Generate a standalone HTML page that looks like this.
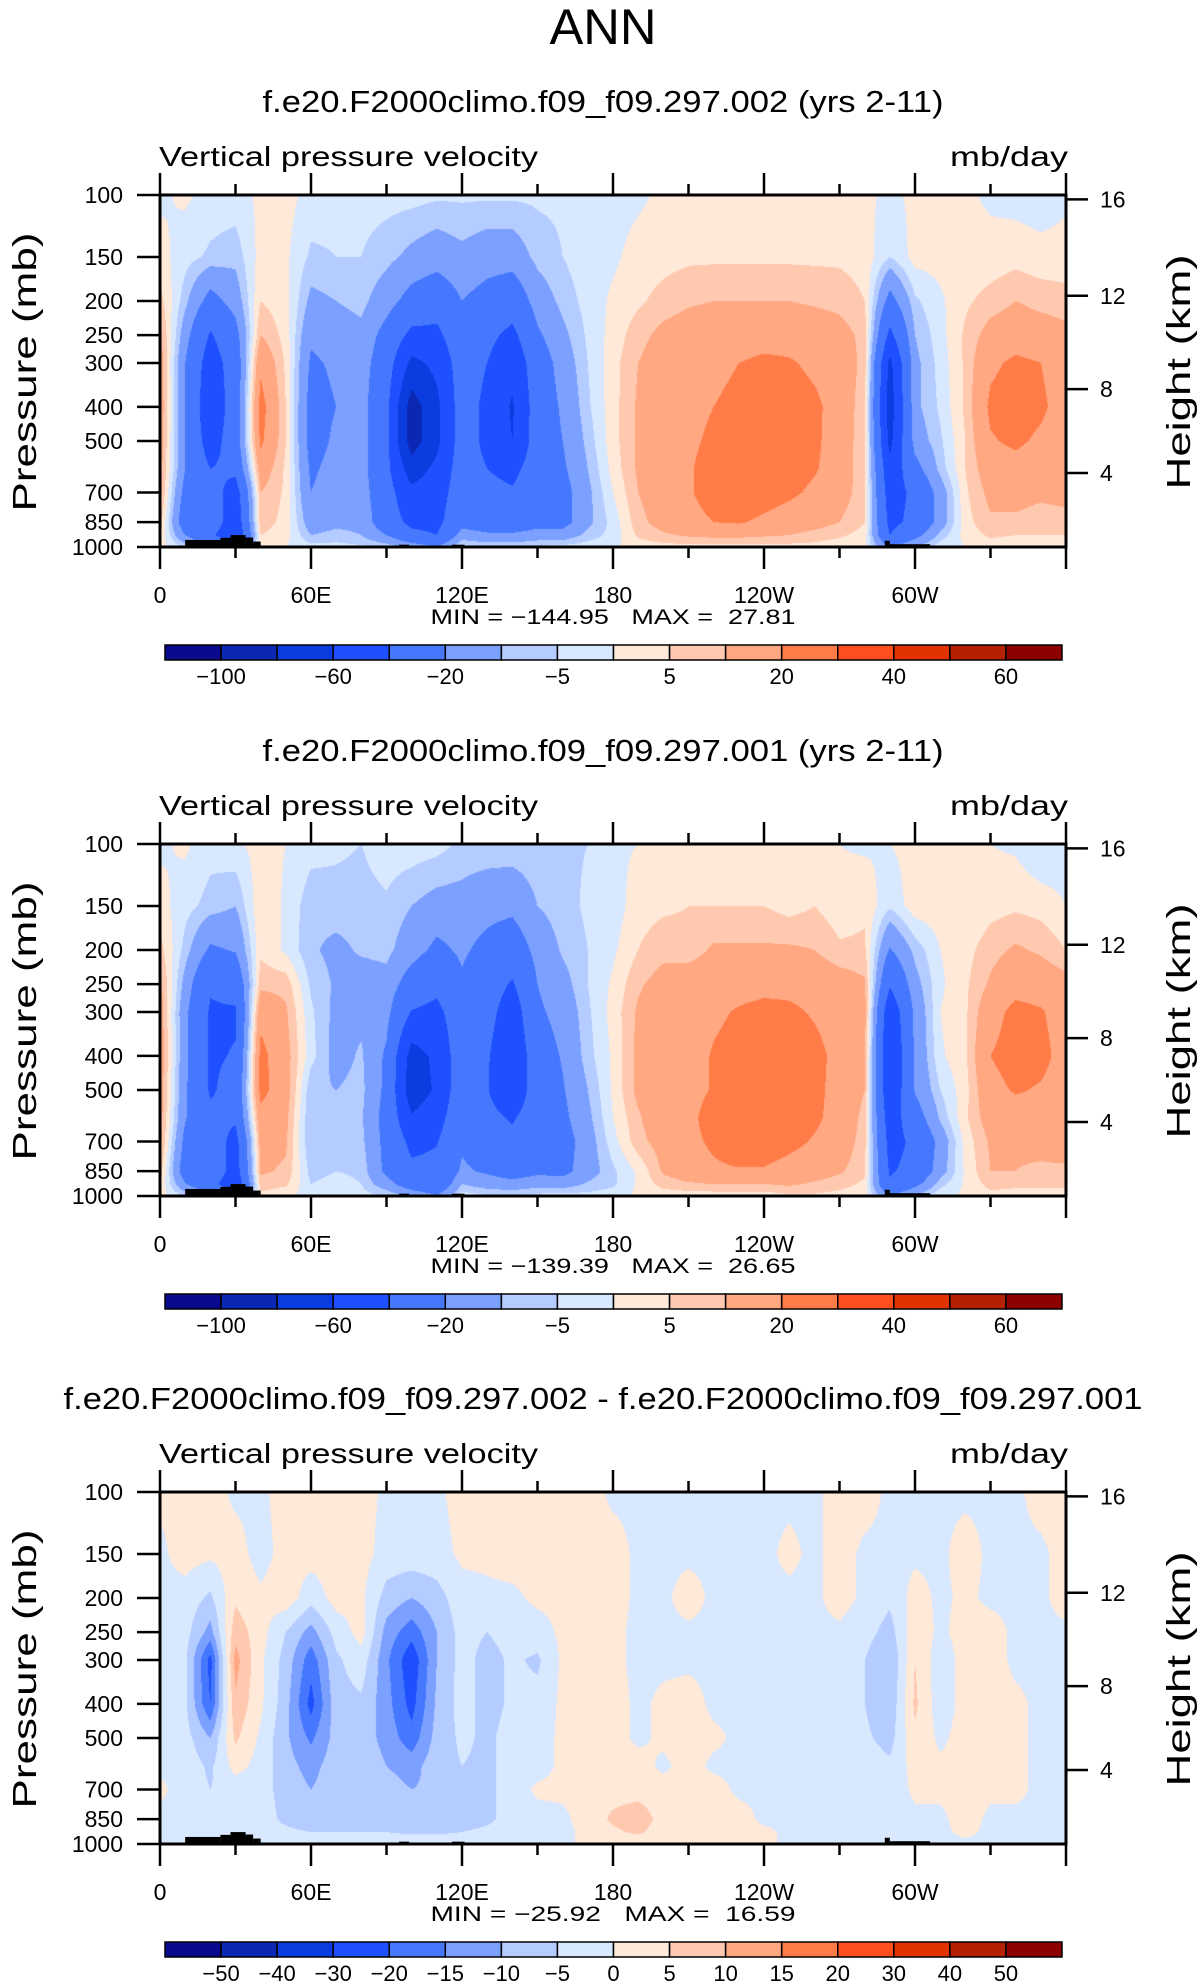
<!DOCTYPE html>
<html><head><meta charset="utf-8"><title>ANN vertical pressure velocity</title>
<style>
html,body{margin:0;padding:0;background:#fff;}
#wrap{position:relative;width:1203px;height:1987px;overflow:hidden;background:#fff;}
canvas{position:absolute;}
svg{position:absolute;left:0;top:0;}
text{font-family:"Liberation Sans",sans-serif;fill:#000;}
.pre{white-space:pre;}
</style></head>
<body>
<div id="wrap">
<canvas id="c0" width="906" height="352" style="left:160px;top:195px"></canvas>
<canvas id="c1" width="906" height="352" style="left:160px;top:844px"></canvas>
<canvas id="c2" width="906" height="352" style="left:160px;top:1492px"></canvas>
<svg id="ov" width="1203" height="1987"></svg>
</div>
<script>
// ---- data ----
const lonGrid = [0,10,20,30,40,50,60,70,80,90,100,110,120,130,140,150,160,170,180,190,200,210,220,230,240,250,260,270,280,290,300,310,320,330,340,350,360];
const presLevels = [100,150,200,250,300,400,500,600,700,850,925,1000];
// columns by longitude; values at presLevels (mb/day)
const omegaCase002 = [
[-1,2,7,12,14,15,14,13,12,8,5,2],
[1,-3,-8,-15,-20,-20,-20,-20,-25,-30,-20,-5],
[-2,-6,-25,-42,-50,-55,-50,-40,-30,-25,-35,-20],
[-2,-8,-15,-25,-30,-30,-28,-35,-50,-55,-60,-30],
[1,2,5,10,18,24,22,15,10,8,5,2],
[2,1,2,3,4,5,5,4,4,3,2,0],
[-2,-6,-12,-18,-22,-25,-25,-22,-20,-15,-10,-3],
[-3,-5,-10,-14,-18,-20,-18,-16,-14,-12,-8,-3],
[-3,-5,-8,-12,-14,-15,-15,-15,-14,-12,-10,-4],
[-3,-8,-15,-25,-30,-35,-35,-35,-32,-30,-20,-6],
[-3,-12,-25,-45,-65,-90,-90,-70,-55,-45,-35,-12],
[-4,-15,-30,-45,-55,-65,-65,-55,-50,-45,-40,-20],
[-4,-12,-20,-25,-30,-30,-30,-30,-28,-25,-15,-3],
[-4,-15,-25,-35,-40,-45,-45,-40,-35,-28,-18,-5],
[-4,-15,-30,-45,-55,-62,-60,-45,-38,-30,-18,-5],
[-4,-8,-15,-22,-28,-30,-30,-30,-30,-25,-15,-4],
[-4,-5,-8,-12,-15,-18,-20,-22,-25,-25,-15,-3],
[-3,-2,-3,-4,-5,-6,-8,-10,-12,-12,-8,-2],
[-2,-1,1,2,3,3,3,2,0,-3,-3,-1],
[-1,2,4,8,10,11,11,11,10,8,6,2],
[1,3,7,12,14,15,15,15,15,13,9,3],
[2,4,9,14,15,17,18,19,19,17,11,3],
[2,4,10,15,17,20,22,24,24,20,12,3],
[2,4,10,15,20,23,25,26,26,21,12,3],
[2,4,10,16,22,25,25,26,25,18,11,3],
[2,4,10,16,21,25,25,25,22,15,10,3],
[2,4,9,15,18,22,22,21,18,13,8,3],
[2,4,8,13,15,16,15,15,14,10,6,2],
[1,3,5,8,8,6,6,6,6,5,3,1],
[-1,-5,-25,-45,-65,-70,-65,-55,-50,-45,-40,-20],
[1,2,-6,-10,-12,-12,-15,-25,-35,-35,-25,-10],
[1,2,-1,-2,-3,-4,-6,-8,-15,-15,-8,-2],
[1,2,4,6,6,6,5,5,4,3,2,0],
[-1,2,7,13,18,22,19,15,12,9,6,2],
[-2,3,10,15,22,25,22,16,12,9,5,2],
[-3,2,8,14,20,22,18,14,11,8,5,2],
[-1,2,7,12,14,15,14,13,12,8,5,2]
];
const omegaCase001 = [
[-1,2,7,12,14,15,14,13,12,8,5,2],
[1,-3,-7,-13,-17,-17,-18,-19,-24,-28,-19,-5],
[-3,-7,-22,-38,-42,-42,-42,-36,-28,-23,-32,-19],
[-1,-10,-19,-33,-42,-39,-34,-37,-47,-50,-57,-29],
[2,4,4,8,17,23,23,17,13,11,8,3],
[0,-1,-1,8,11,13,14,12,11,9,6,1],
[-3,-8,-9,-6,-4,-3,-9,-10,-10,-7,-5,-2],
[-4,-7,-12,-11,-12,-13,-10,-9,-7,-5,-3,-2],
[-5,-7,-9,-14,-12,-9,-8,-9,-8,-6,-5,-3],
[-2,-6,-8,-13,-16,-22,-23,-25,-24,-23,-15,-5],
[-2,-10,-15,-27,-41,-68,-72,-58,-45,-36,-29,-11],
[-3,-13,-23,-35,-45,-56,-57,-48,-41,-35,-34,-19],
[-6,-13,-18,-22,-27,-27,-26,-25,-22,-18,-10,-2],
[-6,-16,-24,-30,-33,-38,-39,-34,-29,-22,-14,-4],
[-6,-17,-29,-42,-51,-58,-57,-42,-35,-27,-16,-4],
[-6,-10,-16,-20,-22,-27,-28,-28,-31,-23,-13,-3],
[-6,-7,-9,-13,-16,-19,-21,-23,-26,-24,-14,-2],
[-5,-4,-5,-5,-6,-7,-10,-12,-14,-14,-9,-3],
[-1,-3,-1,1,2,1,1,0,-2,-6,-6,-2],
[0,3,5,9,11,12,12,9,8,1,1,1],
[2,4,8,13,15,14,14,16,13,11,7,2],
[3,5,7,15,16,15,16,17,17,15,9,2],
[3,5,11,16,18,21,21,25,22,18,10,2],
[3,5,11,16,21,24,26,27,27,19,10,2],
[3,5,11,17,23,26,26,27,26,19,10,2],
[3,3,11,17,22,26,26,26,23,16,11,4],
[3,5,10,16,19,23,23,22,19,14,9,4],
[0,2,6,14,16,17,16,16,15,11,7,3],
[-1,4,6,11,13,11,10,8,7,6,4,2],
[0,-4,-21,-38,-55,-61,-58,-51,-47,-42,-38,-19],
[2,3,-8,-13,-17,-18,-19,-27,-36,-34,-24,-9],
[2,3,0,-1,0,-1,-5,-9,-16,-14,-7,-1],
[2,0,3,4,4,4,3,4,2,1,1,1],
[0,3,8,11,16,20,17,14,11,10,7,3],
[-1,4,11,16,23,24,21,15,11,10,6,3],
[-5,3,9,15,21,23,19,15,12,9,6,3],
[-3,0,5,13,15,16,15,14,13,9,6,3]
];
const omegaDiff = [
[1,-1,-1,-1,-1,-1,-1,-1,1,-1,-1,-1],
[1,2,-2,-3,-4,-4,-3,-2,-2,-3,-2,-1],
[2,1,-6,-12,-22,-20,-10,-6,-5,-4,-3,-1],
[-1,2,4,8,12,9,6,2,-3,-5,-3,-1],
[-1,-2,1,2,1,1,-1,-2,-3,-3,-3,-1],
[2,2,3,-5,-7,-8,-9,-8,-7,-6,-4,-1],
[1,2,-3,-12,-18,-22,-16,-12,-10,-8,-5,-1],
[1,2,2,-3,-6,-7,-8,-7,-7,-7,-5,-1],
[2,2,1,2,-2,-6,-7,-6,-6,-6,-5,-1],
[-1,-2,-7,-12,-14,-13,-12,-10,-8,-7,-5,-1],
[-1,-2,-10,-18,-24,-22,-18,-12,-10,-9,-6,-1],
[-1,-2,-7,-10,-10,-9,-8,-7,-9,-10,-6,-1],
[2,1,-2,-3,-3,-3,-4,-5,-6,-7,-5,-1],
[2,1,-1,-5,-7,-7,-6,-6,-6,-6,-4,-1],
[2,2,-1,-3,-4,-4,-3,-3,-3,-3,-2,-1],
[2,2,1,-2,-6,-3,-2,-2,1,-2,-2,-1],
[2,2,1,1,1,1,1,1,1,-1,-1,-1],
[2,2,2,1,1,1,2,2,2,2,1,1],
[-1,2,2,1,1,2,2,2,3,6,4,1],
[-1,-1,-1,-1,-1,-1,-1,2,3,8,6,1],
[-1,-1,-1,-1,-1,1,1,-1,2,3,2,1],
[-1,-1,2,-1,-1,2,2,2,2,2,2,1],
[-1,-1,-1,-1,-1,-1,1,-1,2,2,2,1],
[-1,-1,-1,-1,-1,-1,-1,-1,-1,2,2,1],
[-1,-1,-1,-1,-1,-1,-1,-1,-1,-1,1,1],
[-1,1,-1,-1,-1,-1,-1,-1,-1,-1,-1,-1],
[-1,-1,-1,-1,-1,-1,-1,-1,-1,-1,-1,-1],
[2,2,2,-1,-1,-1,-1,-1,-1,-1,-1,-1],
[2,-1,-1,-3,-5,-5,-4,-2,-1,-1,-1,-1],
[-1,-1,-4,-7,-10,-9,-7,-4,-3,-3,-2,-1],
[-1,-1,2,3,5,6,4,2,1,-1,-1,-1],
[-1,-1,-1,-1,-3,-3,-1,1,1,-1,-1,-1],
[-1,2,1,2,2,2,2,1,2,2,1,-1],
[-1,-1,-1,2,2,2,2,1,1,-1,-1,-1],
[-1,-1,-1,-1,-1,1,1,1,1,-1,-1,-1],
[2,-1,-1,-1,-1,-1,-1,-1,-1,-1,-1,-1],
[2,2,2,-1,-1,-1,-1,-1,-1,-1,-1,-1]
];
const levelsFull = [-100,-80,-60,-40,-20,-10,-5,0,5,10,20,30,40,50,60];
const levelsDiff = [-50,-40,-30,-20,-15,-10,-5,0,5,10,15,20,30,40,50];
const labelsFull = ["−100","−60","−20","−5","5","20","40","60"];
const labelsFullIdx = [0,2,4,6,8,10,12,14];
const labelsDiff = ["−50","−40","−30","−20","−15","−10","−5","0","5","10","15","20","30","40","50"];
const palette = ["#0a0a8c","#0a28b4","#0a3ce0","#1e50ff","#4678ff","#7ca0ff","#b4ccff","#d7e8ff","#ffe9d9","#ffc9b0","#ffa882","#ff7c48","#ff4f1e","#e13200","#b42000","#8c0000"];
const pTicks = [100,150,200,250,300,400,500,700,850,1000];
const zTicks = [4,8,12,16];
const lonTickVals = [0,60,120,180,240,300];
const lonTickLabels = ["0","60E","120E","180","120W","60W"];
// topography blocks (lon start, lon end, pressure at ground top)
const topoBlocks = [[10,24,955],[24,28,942],[28,34,925],[34,37,940],[37,40,965],[95,99,985],[116,121,985],[288,290,960],[290,306,982]];
const panelTitles = ["f.e20.F2000climo.f09_f09.297.002 (yrs 2-11)","f.e20.F2000climo.f09_f09.297.001 (yrs 2-11)","f.e20.F2000climo.f09_f09.297.002 - f.e20.F2000climo.f09_f09.297.001"];
const minmax = [["−144.95","27.81"],["−139.39","26.65"],["−25.92","16.59"]];

// ---- geometry ----
const X0=160, X1=1066, PH=352;
const tops=[195,844,1492];
const xLon = l => X0 + (X1-X0)*l/360;
const yP = (t,p) => t + PH*Math.log10(p/100);
function zToP(zkm){const z=zkm*1000; if(z<=11000) return 1013.25*Math.pow(1-2.25577e-5*z,5.25588); return 226.32*Math.exp(-(z-11000)/6341.6);}

function hexRgb(h){return [parseInt(h.substr(1,2),16),parseInt(h.substr(3,2),16),parseInt(h.substr(5,2),16)];}
const palRgb = palette.map(hexRgb);
const logLev = presLevels.map(p=>Math.log10(p));

function drawField(cid, field, levels){
  const cv=document.getElementById(cid), ctx=cv.getContext('2d');
  const W=cv.width, H=cv.height, img=ctx.createImageData(W,H);
  for(let py=0;py<H;py++){
    const lp = 2 + (py+0.5)/H;
    let k=0; while(k<logLev.length-2 && lp>logLev[k+1]) k++;
    const fy = Math.min(1,Math.max(0,(lp-logLev[k])/(logLev[k+1]-logLev[k])));
    for(let px=0;px<W;px++){
      const lon=(px+0.5)/W*360;
      let i=Math.min(35,Math.floor(lon/10)); const fx=(lon-lonGrid[i])/10;
      const a=field[i][k]*(1-fy)+field[i][k+1]*fy;
      const b=field[i+1][k]*(1-fy)+field[i+1][k+1]*fy;
      const v=a*(1-fx)+b*fx;
      let c=0; while(c<levels.length && v>=levels[c]) c++;
      const col=palRgb[c], o=(py*W+px)*4;
      img.data[o]=col[0];img.data[o+1]=col[1];img.data[o+2]=col[2];img.data[o+3]=255;
    }
  }
  ctx.putImageData(img,0,0);
}
drawField('c0',omegaCase002,levelsFull);
drawField('c1',omegaCase001,levelsFull);
drawField('c2',omegaDiff,levelsDiff);

// ---- SVG overlay ----
const svg=document.getElementById('ov'), NS='http://www.w3.org/2000/svg';
function mk(tag,attrs,parent,txt){const e=document.createElementNS(NS,tag);for(const k in attrs)e.setAttribute(k,attrs[k]);if(txt!==undefined)e.textContent=txt;(parent||svg).appendChild(e);return e;}

const main=mk('text',{x:603,y:44,'text-anchor':'middle','font-size':50,textLength:107,lengthAdjust:'spacingAndGlyphs'},svg,'ANN');



const titleW=[681,681,1079];
for(let k=0;k<3;k++){
  const t=tops[k], off=t-195;
  const g=mk('g',{});
  
  
  const tt=mk('text',{x:603,y:112+off,'text-anchor':'middle','font-size':31,textLength:titleW[k],lengthAdjust:'spacingAndGlyphs'},g,panelTitles[k]);
  
  
  const vl=mk('text',{x:159,y:166+off,'font-size':28,textLength:379,lengthAdjust:'spacingAndGlyphs'},g,'Vertical pressure velocity');
  
  
  const ul=mk('text',{x:1068,y:166+off,'text-anchor':'end','font-size':28,textLength:118,lengthAdjust:'spacingAndGlyphs'},g,'mb/day');
  
  
  for(const b of topoBlocks){
    const r=mk('rect',{x:xLon(b[0]),y:yP(t,b[2]),width:xLon(b[1])-xLon(b[0]),height:t+PH-yP(t,b[2]),fill:'#000'},g);
    
    
  }
  const fr=mk('rect',{x:X0,y:t,width:X1-X0,height:PH,fill:'none',stroke:'#000','stroke-width':3},g);
  
  
  for(let l=0;l<=360;l+=30){
    const major=l%60===0, len=major?22:11, x=xLon(l);
    const tk1=mk('line',{x1:x,x2:x,y1:t,y2:t-len,stroke:'#000','stroke-width':2.5},g);
    
    
    const tk2=mk('line',{x1:x,x2:x,y1:t+PH,y2:t+PH+len,stroke:'#000','stroke-width':2.5},g);
    
    
  }
  lonTickVals.forEach((l,i)=>{
    const tx=mk('text',{x:xLon(l),y:t+PH+56,'text-anchor':'middle','font-size':23},g,lonTickLabels[i]);
    
    
  });
  pTicks.forEach(p=>{
    const y=yP(t,p);
    const ln=mk('line',{x1:137,x2:X0,y1:y,y2:y,stroke:'#000','stroke-width':2.5},g);
    
    
    const tx=mk('text',{x:123,y:y+8,'text-anchor':'end','font-size':23},g,String(p));
    
    
  });
  zTicks.forEach(z=>{
    const y=yP(t,zToP(z));
    const ln=mk('line',{x1:X1,x2:1088,y1:y,y2:y,stroke:'#000','stroke-width':2.5},g);
    
    
    const tx=mk('text',{x:1100,y:y+8,'font-size':23},g,String(z));
    
    
  });
  const yt=mk('text',{x:0,y:0,'text-anchor':'middle','font-size':33,textLength:279,lengthAdjust:'spacingAndGlyphs',transform:`translate(36,${372+off}) rotate(-90)`},g,'Pressure  (mb)');
  
  
  const rt=mk('text',{x:0,y:0,'text-anchor':'middle','font-size':33,textLength:235,lengthAdjust:'spacingAndGlyphs',transform:`translate(1190,${372+off}) rotate(-90)`},g,'Height  (km)');
  
  
  const mm=mk('text',{x:613,y:624+off,'text-anchor':'middle','font-size':21,textLength:365,lengthAdjust:'spacingAndGlyphs','class':'pre'},g,`MIN = ${minmax[k][0]}   MAX =  ${minmax[k][1]}`);
  
  
  const cbx0=165, cbx1=1062, cby=645+off, cbh=15, bw=(cbx1-cbx0)/16;
  palette.forEach((c,i)=>{
    const r=mk('rect',{x:cbx0+i*bw,y:cby,width:bw,height:cbh,fill:c,stroke:'#000','stroke-width':1.5},g);
    
    
  });
  if(k<2){
    labelsFull.forEach((s,i)=>{
      const tx=mk('text',{x:cbx0+(labelsFullIdx[i]+1)*bw,y:cby+39,'text-anchor':'middle','font-size':22},g,s);
      
      
    });
  } else {
    labelsDiff.forEach((s,i)=>{
      const tx=mk('text',{x:cbx0+(i+1)*bw,y:cby+39,'text-anchor':'middle','font-size':22},g,s);
      
      
    });
  }
}
</script>
</body></html>
